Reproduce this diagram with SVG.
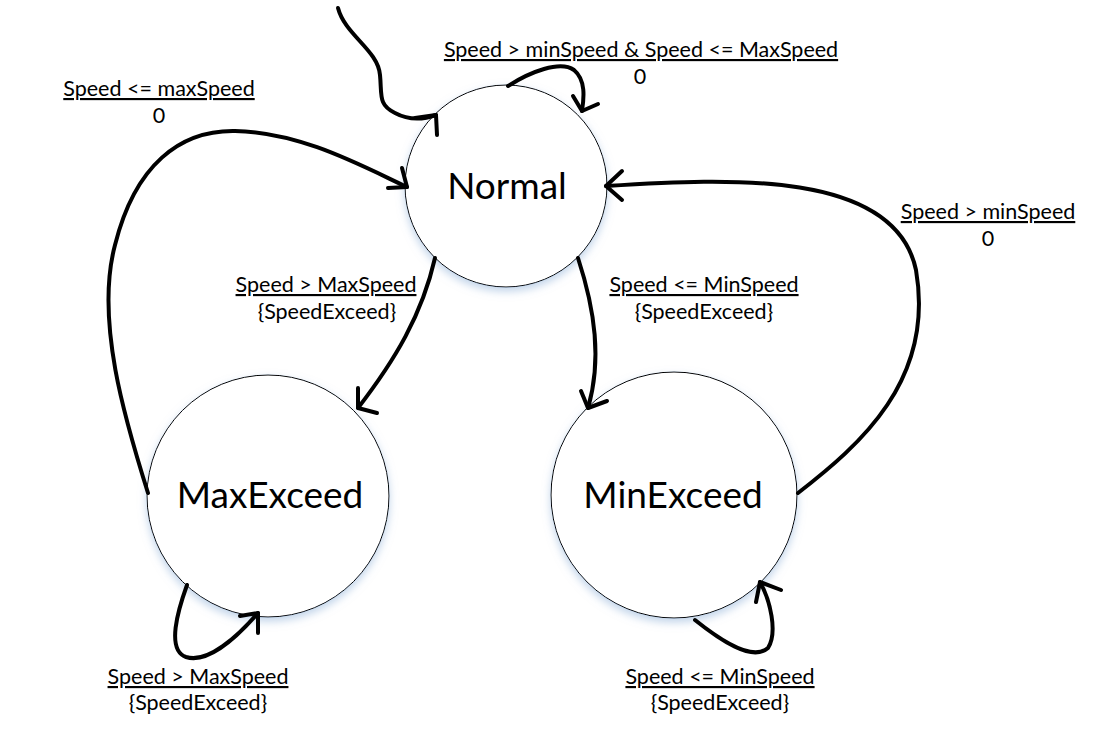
<svg xmlns="http://www.w3.org/2000/svg" width="1117" height="749" viewBox="0 0 1117 749">
<defs>
<filter id="glow" x="-20%" y="-20%" width="140%" height="150%">
<feDropShadow dx="0" dy="4" stdDeviation="4" flood-color="#8fb0d8" flood-opacity="0.55"/>
</filter>
</defs>
<style>
.node{fill:#fff;stroke:#000;stroke-width:1;filter:url(#glow)}
.nlabel{font-family:Lato,"Liberation Sans",sans-serif;font-size:37px;fill:#000;text-anchor:middle}
.elabel{font-family:Lato,"Liberation Sans",sans-serif;font-size:21.5px;fill:#000;text-anchor:middle}
.u{text-decoration:underline}
.edge{fill:none;stroke:#000;stroke-width:4;stroke-linecap:round;stroke-linejoin:round}
</style>
<rect width="1117" height="749" fill="#fff"/>
<g id="node-normal">
<circle class="node" cx="506" cy="186" r="101"/>
<text class="nlabel" x="507" y="199">Normal</text>
</g>
<g id="node-maxexceed">
<circle class="node" cx="268" cy="496" r="121"/>
<text class="nlabel" x="270" y="508">MaxExceed</text>
</g>
<g id="node-minexceed">
<circle class="node" cx="674" cy="495" r="123"/>
<text class="nlabel" x="673" y="508">MinExceed</text>
</g>
<g id="connectors">
<g id="e-init">
<path class="edge" d="M338,8 C345,35 378,50 380,75 C382,95 378,105 395,113 C410,121 425,119 436,115"/>
<path class="edge" d="M415,118 L436,115 L437,135"/>
</g>
<g id="e-normal-self">
<path class="edge" d="M508,86 C530,72 560,60 574,70 C586,80 584,98 582,111"/>
<path class="edge" d="M573,96 L582,111 L598,104"/>
</g>
<g id="e-max-normal">
<path class="edge" d="M148,493 C125,420 95,320 115,245 C135,165 180,130 235,131 C300,132 360,165 407,187"/>
<path class="edge" d="M388,188 L407,187 L402,168"/>
</g>
<g id="e-normal-max">
<path class="edge" d="M435,258 C422,315 395,360 358,408"/>
<path class="edge" d="M358,388 L358,408 L377,413"/>
</g>
<g id="e-normal-min">
<path class="edge" d="M578,258 C595,310 602,360 588,408"/>
<path class="edge" d="M581,391 L588,408 L607,401"/>
</g>
<g id="e-min-normal">
<path class="edge" d="M798,493 C860,445 935,380 916,270 C895,170 730,178 606,186"/>
<path class="edge" d="M622,171 L606,186 L622,200"/>
</g>
<g id="e-max-self">
<path class="edge" d="M187,585 C178,610 166,650 186,657 C208,664 238,636 258,613"/>
<path class="edge" d="M240,616 L258,613 L258,633"/>
</g>
<g id="e-min-self">
<path class="edge" d="M695,620 C720,640 752,662 768,648 C778,632 770,600 760,582"/>
<path class="edge" d="M756,602 L760,582 L781,590"/>
</g>
</g>
<g id="labels">
<text class="elabel u" x="641" y="57">Speed &gt; minSpeed &amp; Speed &lt;= MaxSpeed</text>
<text class="elabel" x="640" y="84">0</text>
<text class="elabel u" x="159" y="96">Speed &lt;= maxSpeed</text>
<text class="elabel" x="159" y="123">0</text>
<text class="elabel u" x="326" y="292">Speed &gt; MaxSpeed</text>
<text class="elabel" x="327" y="319">{SpeedExceed}</text>
<text class="elabel u" x="704" y="292">Speed &lt;= MinSpeed</text>
<text class="elabel" x="704" y="319">{SpeedExceed}</text>
<text class="elabel u" x="988" y="219">Speed &gt; minSpeed</text>
<text class="elabel" x="988" y="246">0</text>
<text class="elabel u" x="198" y="684">Speed &gt; MaxSpeed</text>
<text class="elabel" x="198" y="710">{SpeedExceed}</text>
<text class="elabel u" x="720" y="684">Speed &lt;= MinSpeed</text>
<text class="elabel" x="720" y="710">{SpeedExceed}</text>
</g>
</svg>
